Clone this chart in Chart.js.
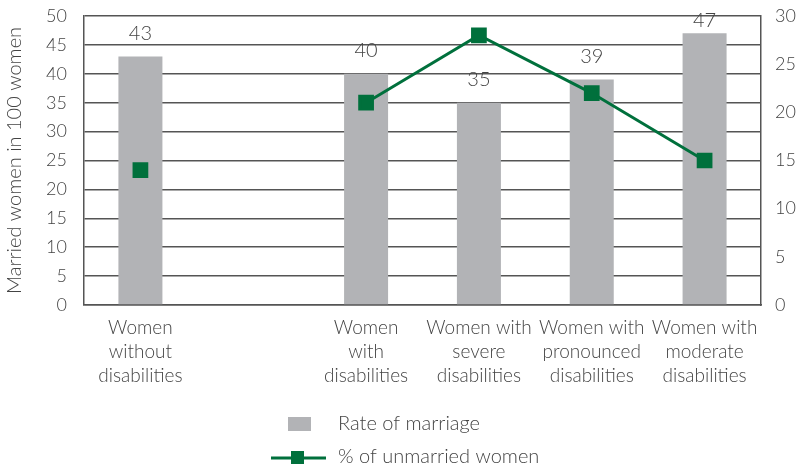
<!DOCTYPE html>
<html>
<head>
<meta charset="utf-8">
<script src="https://cdn.jsdelivr.net/npm/chart.js@4"></script>
<style>
  html, body { margin: 0; padding: 0; background: #fff; }
  #wrap { width: 800px; height: 467px; }
</style>
</head>
<body>
<div id="wrap"><canvas id="graph" width="800" height="467"></canvas></div>
<script>
// categories (the blank one keeps the gap after the first group)
var categories = [
  ['Women', 'without', 'disabilities'],
  '',
  ['Women', 'with', 'disabilities'],
  ['Women with', 'severe', 'disabilities'],
  ['Women with', 'pronounced', 'disabilities'],
  ['Women with', 'moderate', 'disabilities']
];
var marriageRate = [43, null, 40, 35, 39, 47];
var unmarriedPct = [14, null, 21, 28, 22, 15];
var leftTicks = [0, 5, 10, 15, 20, 25, 30, 35, 40, 45, 50];
var rightTicks = [0, 5, 10, 15, 20, 25, 30];

var GREY = '#b2b3b6';
var GREEN = '#00703c';
var TEXT = '#444';
var GRID = '#555';
var FONT = 'Lato, "DejaVu Sans", sans-serif';

// value labels above the bars
var barValues = {
  id: 'barValues',
  afterDatasetsDraw: function(chart) {
    var ctx = chart.ctx;
    var meta = chart.getDatasetMeta(0);
    ctx.save();
    ctx.font = '300 20px ' + FONT;
    ctx.fillStyle = TEXT;
    ctx.textAlign = 'center';
    ctx.textBaseline = 'middle';
    meta.data.forEach(function(bar, i) {
      var v = marriageRate[i];
      if (v === null) return;
      var y = Math.max(bar.y - 23, chart.chartArea.top + 5);
      ctx.fillText(v, bar.x, y);
    });
    ctx.restore();
  }
};

// two-row legend under the axis
var stackedLegend = {
  id: 'stackedLegend',
  afterDraw: function(chart) {
    var ctx = chart.ctx;
    var ds = chart.data.datasets;
    ctx.save();
    ctx.font = '300 20px ' + FONT;
    ctx.textBaseline = 'middle';

    ctx.fillStyle = ds[0].backgroundColor;
    ctx.fillRect(288, 417, 23, 14);
    ctx.fillStyle = TEXT;
    ctx.fillText(ds[0].label, 338, 424);

    ctx.strokeStyle = ds[1].borderColor;
    ctx.lineWidth = 3;
    ctx.beginPath();
    ctx.moveTo(271, 458);
    ctx.lineTo(326, 458);
    ctx.stroke();
    ctx.fillStyle = ds[1].borderColor;
    ctx.fillRect(291, 451, 13, 13);
    ctx.fillStyle = TEXT;
    ctx.fillText(ds[1].label, 338, 457);
    ctx.restore();
  }
};

// keep the plot box fixed: no extra room reserved for end tick labels
function noEndPadding(scale) {
  scale.paddingTop = 0;
  scale.paddingBottom = 0;
}

var ctx = document.getElementById('graph').getContext('2d');
var chart = new Chart(ctx, {
  data: {
    labels: categories,
    datasets: [{
      type: 'bar',
      label: 'Rate of marriage',
      data: marriageRate,
      backgroundColor: GREY,
      barPercentage: 0.39,
      categoryPercentage: 1,
      yAxisID: 'y',
      order: 1
    }, {
      type: 'line',
      label: '% of unmarried women',
      data: unmarriedPct,
      borderColor: GREEN,
      backgroundColor: GREEN,
      borderWidth: 3,
      pointStyle: 'rect',
      pointRadius: 9,
      pointHoverRadius: 9,
      spanGaps: false,
      tension: 0,
      yAxisID: 'y1',
      order: 0
    }]
  },
  options: {
    responsive: false,
    animation: false,
    layout: { padding: { left: 0, right: 0, top: 16, bottom: 70 } },
    plugins: {
      legend: { display: false },
      tooltip: { enabled: false }
    },
    scales: {
      x: {
        grid: { display: false },
        border: { color: GRID, width: 1.5 },
        ticks: {
          color: TEXT,
          font: { family: FONT, size: 19, weight: 300, lineHeight: 1.25 },
          maxRotation: 0,
          autoSkip: false,
          padding: 3
        },
        afterFit: function(scale) { scale.height = 92; }
      },
      y: {
        position: 'left',
        min: 0,
        max: 50,
        afterBuildTicks: function(scale) {
          scale.ticks = leftTicks.map(function(v) { return { value: v }; });
        },
        grid: { color: GRID, lineWidth: 1.5, drawTicks: false },
        border: { color: GRID, width: 1.5 },
        ticks: {
          color: TEXT,
          font: { family: FONT, size: 18, weight: 300 },
          padding: 17
        },
        title: {
          display: true,
          text: 'Married women in 100 women',
          color: TEXT,
          font: { family: FONT, size: 20, weight: 300 },
          padding: { top: 3, bottom: 0 }
        },
        afterFit: function(scale) { scale.width = 84; noEndPadding(scale); }
      },
      y1: {
        position: 'right',
        min: 0,
        max: 30,
        afterBuildTicks: function(scale) {
          scale.ticks = rightTicks.map(function(v) { return { value: v }; });
        },
        grid: { display: false, drawTicks: false },
        border: { color: GRID, width: 1.5 },
        ticks: {
          color: TEXT,
          font: { family: FONT, size: 18, weight: 300 },
          padding: 14
        },
        afterFit: function(scale) { scale.width = 39; noEndPadding(scale); }
      }
    }
  },
  plugins: [barValues, stackedLegend]
});
</script>
</body>
</html>
